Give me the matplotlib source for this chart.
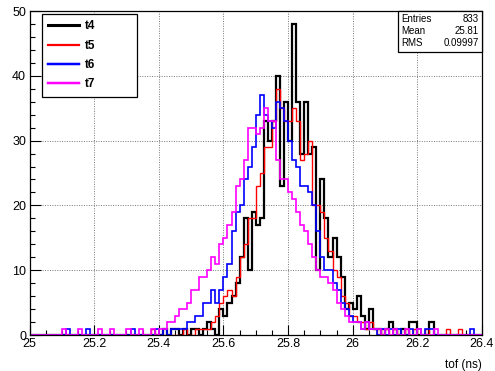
import matplotlib
matplotlib.use("Agg")
import matplotlib.pyplot as plt
from matplotlib.lines import Line2D
import numpy as np

plt.rcParams['font.family'] = ['Liberation Sans', 'DejaVu Sans']

x_min, x_max, bin_w = 25.0, 26.4, 0.0125
n_bins = 112

t4 = [0,0,0,0,0,0,0,0,
      0,0,0,0,0,0,0,0,
      0,0,0,0,0,0,0,0,
      0,0,0,0,0,0,0,0,
      0,1,0,1,1,0,1,0,
      1,1,0,1,2,1,0,4,
      3,5,6,8,12,18,10,19,
      17,18,33,30,33,40,23,36,
      30,48,36,28,36,28,29,10,
      24,18,12,15,12,9,4,5,
      4,6,3,1,4,1,1,0,
      1,2,1,0,1,0,2,2,
      0,0,0,2,0,0,0,0,
      0,0,0,0,0,0,0,0]
t5 = [0,0,0,0,0,0,0,0,
      0,0,0,0,0,0,0,0,
      0,0,0,0,0,0,0,0,
      0,0,0,0,0,0,1,0,
      0,0,0,0,0,0,1,0,
      0,1,1,1,1,2,3,5,
      6,7,6,9,12,14,18,18,
      23,25,29,29,33,38,35,33,
      33,35,33,27,28,30,20,20,
      19,15,13,10,9,6,5,3,
      3,2,2,1,2,1,0,1,
      1,0,1,0,0,1,0,1,
      0,0,1,0,0,0,0,1,
      0,0,1,0,0,0,0,0]
t6 = [0,0,0,0,0,0,0,0,
      0,1,0,0,0,0,1,0,
      0,0,0,0,0,0,0,0,
      0,1,0,0,0,0,0,1,
      0,1,0,1,1,1,1,2,
      2,3,3,5,5,7,5,7,
      9,11,16,19,20,24,26,29,
      34,37,34,33,32,36,35,33,
      30,27,26,23,23,22,20,16,
      12,10,10,8,7,5,4,3,
      2,2,1,2,1,1,0,1,
      0,1,0,1,0,0,1,0,
      1,0,1,1,0,0,0,0,
      0,0,0,0,0,1,0,0]
t7 = [0,0,0,0,0,0,0,0,
      1,0,0,0,1,0,0,0,
      0,1,0,0,1,0,0,0,
      1,0,0,1,0,0,1,0,
      1,1,2,2,3,4,4,5,
      7,7,9,9,10,12,11,14,
      15,17,19,23,24,27,32,32,
      31,32,35,33,33,27,24,24,
      22,21,19,17,16,14,12,10,
      9,9,8,7,5,4,3,2,
      2,2,1,2,1,1,1,0,
      1,0,1,0,0,1,0,0,
      1,0,0,0,1,0,0,0,
      0,0,0,0,0,0,0,0]

series_names = ["t4", "t5", "t6", "t7"]
series_colors = ["#000000", "#ff0000", "#0000ff", "#ff00ff"]
series_lw = [1.6, 1.0, 1.2, 1.2]
stats_labels = ["Entries", "Mean", "RMS"]
stats_values = ["833", "25.81", "0.09997"]

edges = x_min + bin_w * np.arange(n_bins + 1)

fig = plt.figure(figsize=(4.95, 3.71), dpi=100)
ax = fig.add_axes([29.5/495, 1-335/371, (482-29.5)/495, (335-11)/371])

for vals, c, lw in zip([t4, t5, t6, t7], series_colors, series_lw):
    ax.stairs(vals, edges, color=c, lw=lw, baseline=None)

ax.set_xlim(x_min, x_max)
ax.set_ylim(0, 50)
xt = np.round(np.arange(25.0, 26.41, 0.2), 1)
ax.set_xticks(xt)
ax.set_xticklabels([f"{v:g}" for v in xt])
ax.set_xticks(np.arange(25.0, 26.41, 0.05), minor=True)
ax.set_yticks(np.arange(0, 51, 10))
ax.set_yticks(np.arange(0, 51, 2), minor=True)
ax.tick_params(which='both', direction='in', top=False, right=False, labelsize=9, pad=2.5)
ax.tick_params(which='major', length=7, width=0.8)
ax.tick_params(which='minor', length=3.5, width=0.8)
ax.tick_params(axis='y', which='major', length=8)
for s in ax.spines.values():
    s.set_linewidth(0.9)
ax.grid(True, which='major', color='#777777', linestyle=(0, (1, 1.5)), lw=0.7)
ax.set_axisbelow(True)
ax.set_xlabel("tof (ns)", loc='right', fontsize=8.5, labelpad=6)

handles = [Line2D([], [], color=c, lw=lw + 0.6) for c, lw in zip(series_colors, series_lw)]
leg = ax.legend(handles, series_names, loc='upper left',
                bbox_to_anchor=(42/495, 1-94/371, 95/495, 80/371), mode='expand',
                bbox_transform=fig.transFigure, frameon=True, fancybox=False,
                edgecolor='black', framealpha=1, borderaxespad=0, handlelength=2.6,
                handletextpad=0.5, labelspacing=0.62, borderpad=0.55,
                prop={'weight': 'bold', 'size': 8.5})
leg.get_frame().set_linewidth(0.9)

# stats box
bx0, bx1, by0, by1 = 398/495, 482/495, 1-52/371, 1-11/371
fig.patches.append(plt.Rectangle((bx0, by0), bx1-bx0, by1-by0, transform=fig.transFigure,
                                 facecolor='white', edgecolor='black', lw=0.9, zorder=5))
for i, (lab, val) in enumerate(zip(stats_labels, stats_values)):
    yy = 1 - (19 + 12*i)/371
    fig.text(401/495, yy, lab, fontsize=7, va='center', ha='left', zorder=6)
    fig.text(479/495, yy, val, fontsize=7, va='center', ha='right', zorder=6)

fig.savefig("out.png", dpi=100)
